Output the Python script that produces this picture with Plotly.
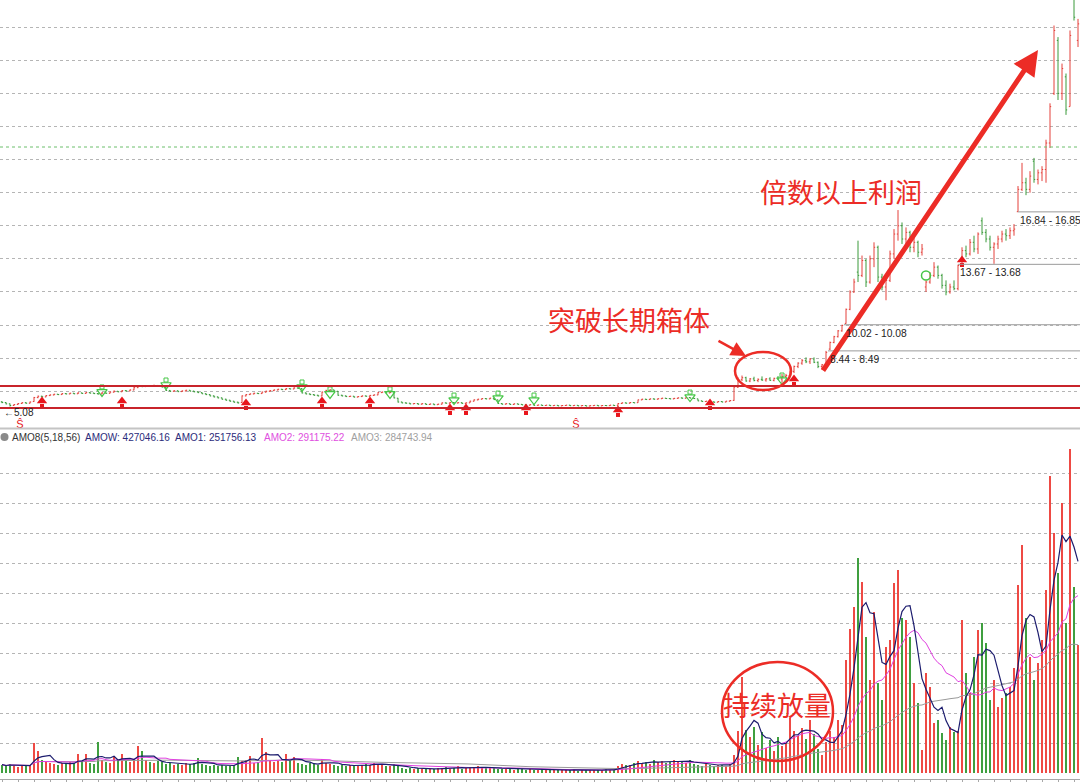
import plotly.graph_objects as go
import pandas as pd

# ---------------- data ----------------
# box-range period (bars 0-182)
open_flat = [5.36, 5.32, 5.24, 5.14, 5.20, 5.26, 5.31, 5.28, 5.38, 5.62,
             5.70, 5.66, 5.74, 5.78, 5.82, 5.80, 5.86, 5.84, 5.88, 5.85,
             5.90, 5.87, 5.92, 5.89, 5.86, 5.84, 5.90, 5.88, 5.95, 6.00,
             5.97, 6.04, 6.02, 6.08, 6.22, 6.30, 6.28, 6.33, 6.30, 6.35,
             6.32, 6.24, 6.05, 6.00, 6.03, 5.98, 6.02, 6.06, 6.01, 5.97,
             5.92, 5.85, 5.80, 5.72, 5.66, 5.60, 5.52, 5.46, 5.40, 5.34,
             5.32, 5.72, 5.80, 5.84, 5.88, 5.86, 5.95, 6.00, 6.04, 6.08,
             6.12, 6.10, 6.16, 6.14, 6.20, 6.16, 5.90, 5.84, 5.80, 5.76,
             5.72, 5.95, 6.05, 6.08, 6.00, 5.76, 5.72, 5.68, 5.70, 5.65,
             5.68, 5.72, 5.70, 5.75, 5.78, 5.92, 5.95, 5.90, 5.90, 5.58,
             5.35, 5.30, 5.28, 5.24, 5.26, 5.22, 5.25, 5.20, 5.23, 5.19,
             5.22, 5.30, 5.28, 5.32, 5.29, 5.31, 5.27, 5.30, 5.40, 5.48,
             5.52, 5.56, 5.54, 5.58, 5.48, 5.26, 5.22, 5.25, 5.20, 5.24,
             5.21, 5.18, 5.16, 5.19, 5.15, 5.17, 5.14, 5.16, 5.13, 5.15,
             5.12, 5.14, 5.16, 5.13, 5.15, 5.12, 5.14, 5.11, 5.13, 5.15,
             5.12, 5.14, 5.13, 5.16, 5.15, 5.26, 5.30, 5.28, 5.32, 5.31,
             5.48, 5.52, 5.50, 5.54, 5.52, 5.55, 5.58, 5.56, 5.54, 5.57,
             5.60, 5.58, 5.62, 5.59, 5.54, 5.42, 5.38, 5.40, 5.36, 5.34,
             5.38, 5.35, 5.40]
high_flat = [5.40, 5.34, 5.26, 5.23, 5.29, 5.34, 5.33, 5.38, 5.66, 5.74,
             5.73, 5.77, 5.81, 5.85, 5.84, 5.89, 5.88, 5.91, 5.90, 5.94,
             5.92, 5.95, 5.94, 5.91, 5.89, 5.95, 5.92, 5.98, 6.05, 6.02,
             6.07, 6.06, 6.11, 6.26, 6.34, 6.33, 6.37, 6.36, 6.40, 6.38,
             6.35, 6.26, 6.08, 6.06, 6.05, 6.05, 6.09, 6.08, 6.03, 5.99,
             5.94, 5.88, 5.82, 5.75, 5.68, 5.62, 5.55, 5.48, 5.42, 5.37,
             5.75, 5.83, 5.87, 5.91, 5.90, 5.98, 6.04, 6.07, 6.11, 6.15,
             6.15, 6.19, 6.18, 6.24, 6.23, 6.18, 5.93, 5.87, 5.83, 5.79,
             5.98, 6.09, 6.12, 6.10, 6.02, 5.79, 5.75, 5.73, 5.72, 5.71,
             5.75, 5.74, 5.78, 5.81, 5.95, 5.98, 5.97, 5.96, 5.92, 5.60,
             5.37, 5.33, 5.30, 5.29, 5.28, 5.28, 5.27, 5.26, 5.25, 5.25,
             5.33, 5.32, 5.35, 5.34, 5.34, 5.33, 5.33, 5.43, 5.51, 5.55,
             5.59, 5.58, 5.61, 5.60, 5.49, 5.28, 5.28, 5.27, 5.27, 5.26,
             5.23, 5.20, 5.21, 5.21, 5.19, 5.19, 5.18, 5.18, 5.17, 5.17,
             5.16, 5.18, 5.18, 5.17, 5.17, 5.16, 5.16, 5.15, 5.17, 5.17,
             5.16, 5.16, 5.18, 5.18, 5.28, 5.33, 5.32, 5.35, 5.34, 5.50,
             5.55, 5.55, 5.57, 5.57, 5.58, 5.61, 5.60, 5.59, 5.60, 5.63,
             5.63, 5.65, 5.64, 5.61, 5.55, 5.44, 5.42, 5.42, 5.38, 5.40,
             5.40, 5.42, 5.47]
low_flat = [5.28, 5.21, 5.08, 5.12, 5.18, 5.24, 5.25, 5.26, 5.36, 5.58,
            5.63, 5.64, 5.71, 5.75, 5.77, 5.78, 5.81, 5.82, 5.82, 5.83,
            5.84, 5.85, 5.86, 5.83, 5.80, 5.82, 5.85, 5.86, 5.92, 5.94,
            5.95, 5.99, 6.00, 6.06, 6.19, 6.25, 6.26, 6.27, 6.28, 6.29,
            6.23, 6.02, 5.97, 5.98, 5.95, 5.96, 6.00, 5.99, 5.94, 5.89,
            5.83, 5.77, 5.70, 5.63, 5.57, 5.50, 5.43, 5.37, 5.31, 5.26,
            5.30, 5.69, 5.77, 5.81, 5.83, 5.84, 5.92, 5.97, 6.01, 6.05,
            6.07, 6.08, 6.11, 6.12, 6.15, 5.87, 5.81, 5.77, 5.73, 5.69,
            5.70, 5.92, 6.02, 5.99, 5.73, 5.69, 5.65, 5.66, 5.62, 5.63,
            5.65, 5.67, 5.68, 5.73, 5.76, 5.89, 5.87, 5.88, 5.57, 5.32,
            5.27, 5.25, 5.21, 5.22, 5.19, 5.20, 5.17, 5.18, 5.16, 5.17,
            5.20, 5.25, 5.26, 5.27, 5.27, 5.24, 5.25, 5.29, 5.38, 5.45,
            5.50, 5.51, 5.52, 5.47, 5.24, 5.19, 5.20, 5.18, 5.18, 5.19,
            5.16, 5.14, 5.14, 5.13, 5.13, 5.12, 5.12, 5.11, 5.11, 5.10,
            5.10, 5.12, 5.11, 5.11, 5.10, 5.10, 5.09, 5.09, 5.11, 5.10,
            5.10, 5.11, 5.11, 5.12, 5.13, 5.24, 5.26, 5.26, 5.28, 5.30,
            5.46, 5.48, 5.48, 5.50, 5.50, 5.53, 5.54, 5.52, 5.52, 5.55,
            5.55, 5.56, 5.57, 5.54, 5.40, 5.36, 5.36, 5.34, 5.31, 5.32,
            5.33, 5.33, 5.38]
close_flat = [5.32, 5.24, 5.14, 5.20, 5.26, 5.31, 5.28, 5.35, 5.62, 5.70,
              5.66, 5.74, 5.78, 5.82, 5.80, 5.86, 5.84, 5.88, 5.85, 5.90,
              5.87, 5.92, 5.89, 5.86, 5.84, 5.90, 5.88, 5.95, 6.00, 5.97,
              6.04, 6.02, 6.08, 6.22, 6.30, 6.28, 6.33, 6.30, 6.35, 6.32,
              6.26, 6.05, 6.00, 6.03, 5.98, 6.02, 6.06, 6.01, 5.97, 5.92,
              5.85, 5.80, 5.72, 5.66, 5.60, 5.52, 5.46, 5.40, 5.34, 5.30,
              5.72, 5.80, 5.84, 5.88, 5.86, 5.95, 6.00, 6.04, 6.08, 6.12,
              6.10, 6.16, 6.14, 6.20, 6.18, 5.90, 5.84, 5.80, 5.76, 5.72,
              5.95, 6.05, 6.08, 6.02, 5.76, 5.72, 5.68, 5.70, 5.65, 5.68,
              5.72, 5.70, 5.75, 5.78, 5.92, 5.95, 5.90, 5.93, 5.60, 5.35,
              5.30, 5.28, 5.24, 5.26, 5.22, 5.25, 5.20, 5.23, 5.19, 5.22,
              5.30, 5.28, 5.32, 5.29, 5.31, 5.27, 5.30, 5.40, 5.48, 5.52,
              5.56, 5.54, 5.58, 5.50, 5.26, 5.22, 5.25, 5.20, 5.24, 5.21,
              5.18, 5.16, 5.19, 5.15, 5.17, 5.14, 5.16, 5.13, 5.15, 5.12,
              5.14, 5.16, 5.13, 5.15, 5.12, 5.14, 5.11, 5.13, 5.15, 5.12,
              5.14, 5.13, 5.16, 5.14, 5.26, 5.30, 5.28, 5.32, 5.30, 5.48,
              5.52, 5.50, 5.54, 5.52, 5.55, 5.58, 5.56, 5.54, 5.57, 5.60,
              5.58, 5.62, 5.59, 5.56, 5.42, 5.38, 5.40, 5.36, 5.34, 5.38,
              5.35, 5.40, 5.44]

# breakout and rally (bars 183-269)
open_rally = [5.45, 6.25, 6.70, 6.82, 6.62, 6.75, 6.65, 6.72, 6.68, 6.75,
              6.66, 6.78, 6.74, 6.90, 6.95, 7.20, 7.50, 7.70, 7.85, 7.78,
              7.95, 7.75, 7.50, 7.60, 8.55, 8.95, 9.30, 9.65, 10.10, 10.95,
              12.00, 13.20, 13.00, 13.90, 12.60, 14.00, 14.70, 12.90, 12.30, 12.70,
              14.30, 15.50, 16.00, 15.20, 15.60, 14.70, 15.00, 14.40, 12.30, 12.60,
              13.00, 13.50, 13.00, 12.40, 12.00, 12.30, 12.20, 13.70, 14.50, 14.30,
              15.00, 14.60, 16.30, 15.60, 15.20, 14.70, 14.90, 15.20, 15.50, 15.40,
              15.70, 16.85, 18.20, 18.60, 18.20, 19.90, 18.80, 19.20, 19.40, 21.00,
              24.00, 27.20, 24.00, 25.00, 23.20, 29.80, 27.20]
high_rally = [6.30, 6.85, 6.95, 6.88, 6.80, 6.88, 6.78, 6.90, 6.80, 6.85,
              6.82, 6.92, 7.05, 7.05, 7.25, 7.55, 7.75, 7.95, 8.05, 8.00,
              8.05, 7.80, 7.65, 8.44, 9.00, 9.35, 9.70, 10.02, 11.00, 12.10,
              12.80, 15.10, 14.20, 14.00, 14.20, 15.00, 14.80, 13.10, 12.90, 14.50,
              15.80, 16.95, 16.20, 15.90, 15.70, 15.30, 15.10, 14.90, 12.70, 13.20,
              13.80, 13.60, 13.10, 12.70, 12.50, 12.70, 13.65, 14.70, 14.80, 15.20,
              15.40, 15.60, 16.50, 15.80, 15.40, 15.00, 15.40, 15.70, 15.80, 15.90,
              16.10, 18.40, 19.80, 18.90, 19.30, 20.10, 19.40, 19.60, 21.20, 23.40,
              28.10, 27.40, 25.80, 25.20, 27.80, 30.50, 28.50]
low_rally = [5.42, 6.20, 6.62, 6.58, 6.55, 6.60, 6.55, 6.62, 6.58, 6.62,
             6.60, 6.70, 6.45, 6.80, 6.90, 7.10, 7.40, 7.60, 7.70, 7.65,
             7.70, 7.40, 7.30, 7.55, 8.49, 8.90, 9.25, 9.60, 10.08, 10.90,
             11.95, 12.60, 12.90, 12.30, 12.50, 13.50, 12.60, 12.10, 11.50, 12.60,
             14.00, 15.10, 14.90, 14.80, 14.40, 14.40, 14.10, 14.20, 12.00, 12.50,
             12.90, 12.80, 12.20, 11.80, 11.90, 12.10, 12.10, 13.68, 14.10, 14.20,
             14.40, 14.30, 15.45, 15.00, 14.50, 13.70, 14.60, 15.00, 15.10, 15.20,
             15.40, 16.85, 18.10, 17.85, 18.00, 18.60, 18.50, 18.70, 18.60, 20.70,
             23.90, 23.60, 23.60, 22.70, 23.20, 28.40, 26.80]
close_rally = [6.25, 6.72, 6.82, 6.62, 6.75, 6.65, 6.72, 6.68, 6.75, 6.66,
               6.78, 6.74, 6.90, 6.95, 7.20, 7.50, 7.70, 7.85, 7.78, 7.95,
               7.75, 7.50, 7.60, 8.35, 8.95, 9.30, 9.65, 9.98, 10.95, 12.00,
               12.60, 13.00, 13.90, 12.60, 14.00, 14.70, 12.90, 12.30, 12.70, 14.30,
               15.50, 16.00, 15.20, 15.60, 14.70, 15.00, 14.40, 14.60, 12.60, 13.00,
               13.50, 13.00, 12.40, 12.00, 12.30, 12.20, 13.60, 14.50, 14.30, 15.00,
               14.60, 15.50, 15.60, 15.20, 14.70, 14.90, 15.20, 15.50, 15.40, 15.70,
               15.80, 18.20, 18.60, 18.20, 19.00, 18.80, 19.20, 19.40, 21.00, 23.20,
               27.80, 24.00, 25.50, 23.00, 27.50, 28.60, 28.20]

# turnover (AMOW, in 万元)
vol_flat = [28000, 22000, 30000, 25000, 20000, 24000, 26000, 27000, 100000, 75000,
            45000, 38000, 35000, 30000, 28000, 33000, 30000, 36000, 32000, 65000,
            40000, 62000, 35000, 30000, 103000, 45000, 38000, 35000, 58000, 40000,
            65000, 42000, 38000, 40000, 90000, 72000, 45000, 38000, 35000, 40000,
            36000, 30000, 33000, 28000, 30000, 27000, 32000, 29000, 35000, 50000,
            30000, 28000, 25000, 27000, 24000, 26000, 22000, 25000, 28000, 55000,
            40000, 45000, 58000, 35000, 38000, 117000, 70000, 42000, 36000, 40000,
            38000, 62000, 40000, 55000, 35000, 30000, 28000, 32000, 30000, 27000,
            48000, 35000, 30000, 28000, 25000, 27000, 24000, 26000, 23000, 25000,
            28000, 30000, 26000, 35000, 30000, 28000, 25000, 22000, 30000, 24000,
            18000, 15000, 17000, 14000, 16000, 13000, 15000, 12000, 14000, 16000,
            18000, 20000, 15000, 17000, 22000, 14000, 16000, 20000, 18000, 22000,
            19000, 17000, 21000, 16000, 14000, 12000, 15000, 13000, 11000, 14000,
            12000, 10000, 13000, 11000, 9000, 12000, 10000, 11000, 9000, 10000,
            11000, 9000, 10000, 12000, 8000, 10000, 9000, 11000, 10000, 9000,
            10000, 12000, 9000, 11000, 25000, 30000, 28000, 26000, 32000, 40000,
            35000, 38000, 30000, 42000, 36000, 40000, 34000, 38000, 44000, 36000,
            40000, 35000, 42000, 30000, 28000, 25000, 30000, 26000, 24000, 28000,
            27000, 25000, 30000]
vol_rally = [60000, 140000, 320000, 143000, 120000, 153000, 95000, 137000, 85000, 110000,
             75000, 120000, 90000, 100000, 183000, 140000, 125000, 150000, 115000, 177000,
             130000, 80000, 60000, 105000, 140000, 120000, 177000, 160000, 377000, 480000,
             553000, 717000, 637000, 453000, 310000, 537000, 300000, 243000, 420000, 443000,
             633000, 677000, 517000, 510000, 453000, 300000, 233000, 77000, 333000, 287000,
             167000, 177000, 133000, 110000, 153000, 137000, 140000, 510000, 333000, 267000,
             387000, 477000, 500000, 433000, 243000, 310000, 220000, 250000, 267000, 287000,
             350000, 627000, 760000, 517000, 387000, 310000, 367000, 443000, 610000, 990000,
             800000, 667000, 900000, 500000, 1080000, 620000, 427046.16]

# signal markers (bar index, price at arrow centre)
buy_idx = [10, 30, 61, 80, 92, 112, 116, 131, 154, 177, 198, 240]
buy_price = [5.29, 5.29, 5.17, 5.29, 5.29, 4.87, 4.87, 4.87, 4.75, 5.17, 6.62, 13.81]
sell_idx = [25, 41, 75, 82, 97, 113, 124, 133, 172, 195]
sell_price = [6.08, 6.50, 6.38, 5.96, 5.96, 5.59, 5.71, 5.59, 5.77, 6.80]
hand_idx = [231]
hand_price = [13.0]
s_idx = [4.5, 143.5]
s_price = [3.97, 3.97]

# gap labels
gap_text = ["8.44 - 8.49", "10.02 - 10.08", "13.67 - 13.68", "16.84 - 16.85"]
gap_price = [8.44, 10.02, 13.67, 16.84]
gap_start = [206.5, 210.5, 239.0, 254.0]

low_label = "5.08"
low_idx = 2
low_price = 5.08

box_top = 6.32
box_bottom = 4.99
ref_price = 20.76

price_grid = [6, 8, 10, 12, 14, 16, 18, 20, 22, 24, 26, 28]
vol_grid = [100000, 200000, 300000, 400000, 500000, 600000, 700000, 800000, 900000, 1000000]

legend_names = ["AMO8(5,18,56)", "AMOW: 427046.16", "AMO1: 251756.13", "AMO2: 291175.22", "AMO3: 284743.94"]

# ---------------- build ----------------
opens = open_flat + open_rally
highs = high_flat + high_rally
lows = low_flat + low_rally
closes = close_flat + close_rally
volumes = vol_flat + vol_rally
n = len(closes)
for arr in (opens, highs, lows, volumes):
    if len(arr) != n:
        raise ValueError("length mismatch")
xs = list(range(n))

W, H = 1080, 782
def px(v):
    return v / W
def py(v):
    return 1 - v / H

RED = "#e4403a"
GREEN = "#3a9a3a"
VRED = "#ee4a44"
VGREEN = "#3f9f3f"
ANN_RED = "#ec2c26"
SIG_RED = "#e8161c"
SIG_GREEN = "#46c646"
FONT = "Liberation Sans, Arial, sans-serif"
CJK = "Noto Sans CJK SC, sans-serif"

top_dom = [1 - 428 / H, 1.0]
bot_dom = [1 - 779 / H, 1 - 430 / H]
px_per_unit = 16.55
unit_px = 1 / px_per_unit          # price units per pixel
y_top = 5.08 + 406.5 / px_per_unit
y_bot = 5.08 - (428 - 406.5) / px_per_unit
vol_per_px = 100000 / 30
v_bot = -6 * vol_per_px
v_top = (773 - 430) * vol_per_px

vs = pd.Series(volumes)
amo1 = vs.rolling(5, min_periods=1).mean()
amo2 = vs.rolling(18, min_periods=1).mean()
amo3 = vs.rolling(56, min_periods=1).mean()

vcolors = [VRED if c >= o else VGREEN for o, c in zip(opens, closes)]

fig = go.Figure()
fig.add_trace(go.Ohlc(
    x=xs, open=opens, high=highs, low=lows, close=closes,
    increasing=dict(line=dict(color=RED, width=1)),
    decreasing=dict(line=dict(color=GREEN, width=1)),
    tickwidth=0.3, xaxis="x", yaxis="y", hoverinfo="skip", showlegend=False))

# buy arrows: triangle head + square stem
fig.add_trace(go.Scatter(x=buy_idx, y=[p + 2 * unit_px for p in buy_price], mode="markers",
                         xaxis="x", yaxis="y",
                         marker=dict(symbol="triangle-up", size=9, color=SIG_RED, line=dict(width=0)),
                         hoverinfo="skip", showlegend=False))
fig.add_trace(go.Scatter(x=buy_idx, y=[p - 3 * unit_px for p in buy_price], mode="markers",
                         xaxis="x", yaxis="y",
                         marker=dict(symbol="square", size=4, color=SIG_RED, line=dict(width=0)),
                         hoverinfo="skip", showlegend=False))
# sell arrows: hollow head + hollow stem
fig.add_trace(go.Scatter(x=sell_idx, y=[p + 3 * unit_px for p in sell_price], mode="markers",
                         xaxis="x", yaxis="y",
                         marker=dict(symbol="square-open", size=4, color=SIG_GREEN,
                                     line=dict(width=1, color=SIG_GREEN)),
                         hoverinfo="skip", showlegend=False))
fig.add_trace(go.Scatter(x=sell_idx, y=[p - 2 * unit_px for p in sell_price], mode="markers",
                         xaxis="x", yaxis="y",
                         marker=dict(symbol="triangle-down-open", size=9, color=SIG_GREEN,
                                     line=dict(width=1.2, color=SIG_GREEN)),
                         hoverinfo="skip", showlegend=False))
fig.add_trace(go.Scatter(x=hand_idx, y=hand_price, mode="markers", xaxis="x", yaxis="y",
                         marker=dict(symbol="circle-open", size=9, color=SIG_GREEN,
                                     line=dict(width=1.5, color=SIG_GREEN)),
                         hoverinfo="skip", showlegend=False))
fig.add_trace(go.Scatter(x=s_idx, y=s_price, mode="text", text=["Ŝ"] * len(s_idx), xaxis="x", yaxis="y",
                         textfont=dict(color=SIG_RED, size=11, family=FONT),
                         hoverinfo="skip", showlegend=False))

fig.add_trace(go.Bar(x=xs, y=volumes, width=0.26, xaxis="x2", yaxis="y2",
                     marker=dict(color=vcolors, line=dict(width=0)),
                     hoverinfo="skip", showlegend=False))
fig.add_trace(go.Scatter(x=xs, y=amo3, mode="lines", xaxis="x2", yaxis="y2",
                         line=dict(color="#9a9a9a", width=1), hoverinfo="skip", showlegend=False))
fig.add_trace(go.Scatter(x=xs, y=amo2, mode="lines", xaxis="x2", yaxis="y2",
                         line=dict(color="#e040e0", width=1), hoverinfo="skip", showlegend=False))
fig.add_trace(go.Scatter(x=xs, y=amo1, mode="lines", xaxis="x2", yaxis="y2",
                         line=dict(color="#1c1c6e", width=1.2), hoverinfo="skip", showlegend=False))

fig.update_layout(
    width=W, height=H, margin=dict(l=0, r=0, t=0, b=0),
    paper_bgcolor="white", plot_bgcolor="white",
    font=dict(family=FONT, size=11, color="#222"),
    showlegend=False, bargap=0,
    xaxis=dict(domain=[0, 1], anchor="y", range=[-0.5, n - 0.5], showgrid=False,
               showticklabels=False, zeroline=False, showline=False,
               rangeslider=dict(visible=False), fixedrange=True),
    yaxis=dict(domain=top_dom, range=[y_bot, y_top], tickmode="array", tickvals=price_grid,
               showticklabels=False, showgrid=True, gridcolor="#b5b5b5", griddash="dot",
               gridwidth=1, zeroline=False, showline=False, ticks=""),
    xaxis2=dict(domain=[0, 1], anchor="y2", matches="x", range=[-0.5, n - 0.5], showgrid=False,
                showticklabels=False, zeroline=False, showline=True, linecolor="#a8a8a8",
                linewidth=1, ticks="outside", ticklen=3, tickcolor="#a8a8a8",
                tickmode="linear", tick0=0, dtick=4),
    yaxis2=dict(domain=bot_dom, range=[v_bot, v_top], tickmode="array", tickvals=vol_grid,
                showticklabels=False, showgrid=True, gridcolor="#b5b5b5", griddash="dot",
                gridwidth=1, zeroline=False, showline=False, ticks=""),
)

shapes = []
shapes.append(dict(type="line", xref="paper", yref="paper", x0=0, x1=1, y0=py(428.5), y1=py(428.5),
                   line=dict(color="#c4c4c4", width=2)))
shapes.append(dict(type="line", xref="paper", yref="y", x0=0, x1=1, y0=ref_price, y1=ref_price,
                   line=dict(color="#6cbf6c", width=1, dash="dot")))
for b in (box_top, box_bottom):
    shapes.append(dict(type="line", xref="paper", yref="y", x0=0, x1=1, y0=b, y1=b,
                       line=dict(color="#c8242b", width=2)))
for gs, gp in zip(gap_start, gap_price):
    shapes.append(dict(type="line", xref="x", yref="y", x0=gs, x1=n - 0.5, y0=gp, y1=gp,
                       line=dict(color="#9a9a9a", width=1)))
shapes.append(dict(type="circle", xref="paper", yref="paper", x0=px(735), x1=px(791),
                   y0=py(390), y1=py(352), line=dict(color=ANN_RED, width=2.5)))
shapes.append(dict(type="circle", xref="paper", yref="paper", x0=px(722), x1=px(833),
                   y0=py(761), y1=py(662), line=dict(color=ANN_RED, width=2.5)))
shapes.append(dict(type="circle", xref="paper", yref="paper", x0=px(0.5), x1=px(8.5),
                   y0=py(441), y1=py(433), fillcolor="#8a8a8a", line=dict(width=0)))
fig.update_layout(shapes=shapes)

anns = []
anns.append(dict(xref="paper", yref="paper", x=px(1038), y=py(50), ax=-216, ay=322,
                 text="", showarrow=True, arrowhead=2, arrowsize=1.0, arrowwidth=5,
                 arrowcolor=ANN_RED))
anns.append(dict(xref="paper", yref="paper", x=px(746), y=py(356), ax=-29, ay=-16,
                 text="", showarrow=True, arrowhead=2, arrowsize=1.2, arrowwidth=2.5,
                 arrowcolor=ANN_RED))
for txt, cx, cy in (("倍数以上利润", 841, 191), ("突破长期箱体", 629, 320), ("持续放量", 777, 704)):
    anns.append(dict(xref="paper", yref="paper", x=px(cx), y=py(cy), text=txt, showarrow=False,
                     xanchor="center", yanchor="middle",
                     font=dict(family=CJK, size=27, color=ANN_RED)))
for gt, gs, gp in zip(gap_text, gap_start, gap_price):
    anns.append(dict(xref="x", yref="y", x=gs, y=gp, text=gt, showarrow=False,
                     xanchor="left", yanchor="top", xshift=0, yshift=-1,
                     font=dict(family=FONT, size=10.3, color="#222")))
anns.append(dict(xref="x", yref="y", x=low_idx, y=low_price, text="\u2190" + low_label, showarrow=False,
                 xanchor="left", yanchor="top", xshift=-8, yshift=2,
                 font=dict(family=FONT, size=10, color="#222")))
leg_x = [10, 83, 173, 262, 349]
leg_c = ["#333333", "#2b2b7a", "#2b2b7a", "#e050e0", "#a0a0a0"]
for t, lx, lc in zip(legend_names, leg_x, leg_c):
    anns.append(dict(xref="paper", yref="paper", x=px(lx), y=py(437), text=t, showarrow=False,
                     xanchor="left", yanchor="middle",
                     font=dict(family=FONT, size=10, color=lc)))
fig.update_layout(annotations=anns)

fig.write_html("out.html", config={"displayModeBar": False},
               post_script="document.body.style.margin='0px';")
